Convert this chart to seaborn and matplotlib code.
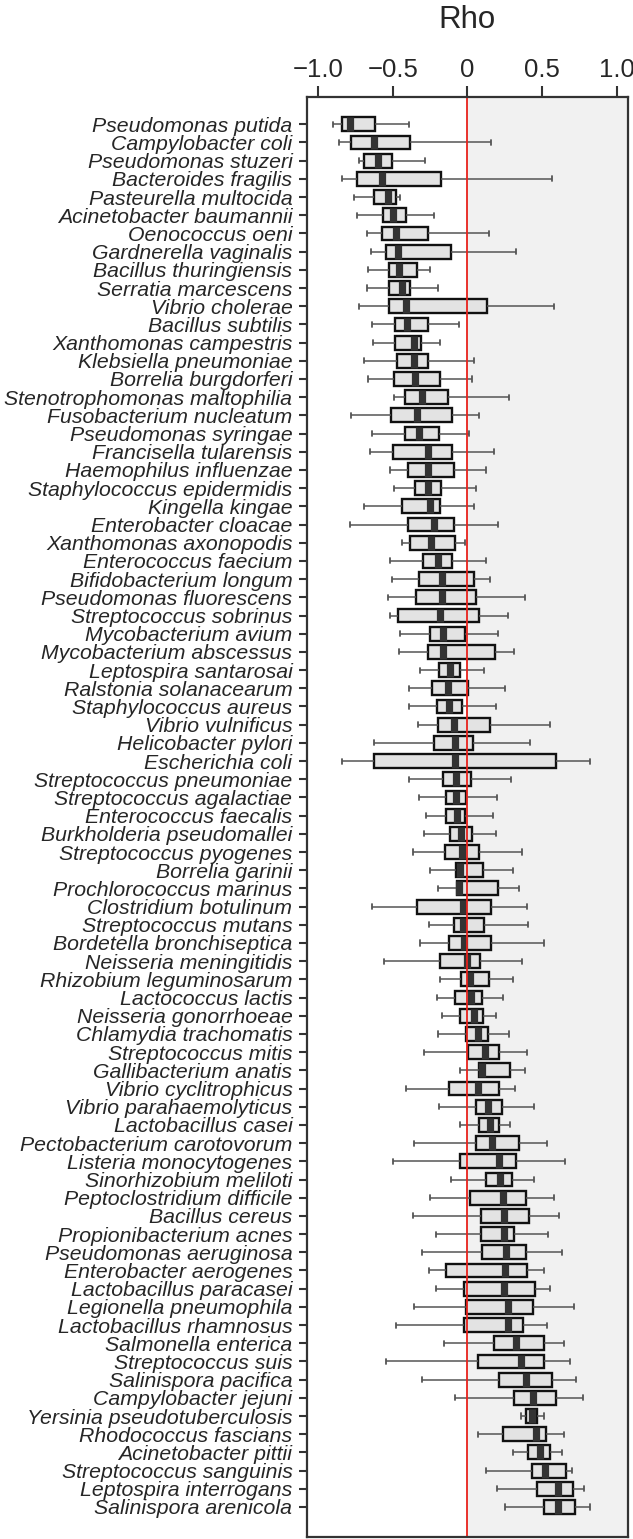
import numpy as np
import pandas as pd
import matplotlib
matplotlib.use("Agg")
import matplotlib.pyplot as plt
import seaborn as sns

species = [
    "Pseudomonas putida", "Campylobacter coli", "Pseudomonas stuzeri", "Bacteroides fragilis",
    "Pasteurella multocida", "Acinetobacter baumannii", "Oenococcus oeni", "Gardnerella vaginalis",
    "Bacillus thuringiensis", "Serratia marcescens", "Vibrio cholerae", "Bacillus subtilis",
    "Xanthomonas campestris", "Klebsiella pneumoniae", "Borrelia burgdorferi",
    "Stenotrophomonas maltophilia", "Fusobacterium nucleatum", "Pseudomonas syringae",
    "Francisella tularensis", "Haemophilus influenzae", "Staphylococcus epidermidis",
    "Kingella kingae", "Enterobacter cloacae", "Xanthomonas axonopodis", "Enterococcus faecium",
    "Bifidobacterium longum", "Pseudomonas fluorescens", "Streptococcus sobrinus",
    "Mycobacterium avium", "Mycobacterium abscessus", "Leptospira santarosai",
    "Ralstonia solanacearum", "Staphylococcus aureus", "Vibrio vulnificus", "Helicobacter pylori",
    "Escherichia coli", "Streptococcus pneumoniae", "Streptococcus agalactiae",
    "Enterococcus faecalis", "Burkholderia pseudomallei", "Streptococcus pyogenes",
    "Borrelia garinii", "Prochlorococcus marinus", "Clostridium botulinum",
    "Streptococcus mutans", "Bordetella bronchiseptica", "Neisseria meningitidis",
    "Rhizobium leguminosarum", "Lactococcus lactis", "Neisseria gonorrhoeae",
    "Chlamydia trachomatis", "Streptococcus mitis", "Gallibacterium anatis",
    "Vibrio cyclitrophicus", "Vibrio parahaemolyticus", "Lactobacillus casei",
    "Pectobacterium carotovorum", "Listeria monocytogenes", "Sinorhizobium meliloti",
    "Peptoclostridium difficile", "Bacillus cereus", "Propionibacterium acnes",
    "Pseudomonas aeruginosa", "Enterobacter aerogenes", "Lactobacillus paracasei",
    "Legionella pneumophila", "Lactobacillus rhamnosus", "Salmonella enterica",
    "Streptococcus suis", "Salinispora pacifica", "Campylobacter jejuni",
    "Yersinia pseudotuberculosis", "Rhodococcus fascians", "Acinetobacter pittii",
    "Streptococcus sanguinis", "Leptospira interrogans", "Salinispora arenicola",
]

rho_min = [-0.900, -0.859, -0.728, -0.837, -0.761, -0.739, -0.672, -0.645, -0.667, -0.672,
           -0.725, -0.636, -0.632, -0.690, -0.663, -0.489, -0.779, -0.636, -0.654, -0.516,
           -0.493, -0.690, -0.783, -0.435, -0.520, -0.507, -0.533, -0.516, -0.449, -0.458,
           -0.319, -0.391, -0.391, -0.333, -0.623, -0.837, -0.391, -0.324, -0.279, -0.288,
           -0.364, -0.252, -0.199, -0.641, -0.257, -0.319, -0.560, -0.185, -0.203, -0.172,
           -0.199, -0.288, -0.051, -0.408, -0.190, -0.051, -0.355, -0.498, -0.109, -0.248,
           -0.364, -0.208, -0.301, -0.257, -0.208, -0.355, -0.475, -0.154, -0.547, -0.306,
           -0.083, 0.359, 0.074, 0.306, 0.127, 0.199, 0.252]
rho_q1 = [-0.837, -0.779, -0.692, -0.737, -0.627, -0.565, -0.574, -0.542, -0.525, -0.525,
          -0.525, -0.487, -0.482, -0.473, -0.491, -0.415, -0.511, -0.420, -0.498, -0.400,
          -0.350, -0.440, -0.400, -0.382, -0.297, -0.324, -0.346, -0.462, -0.248, -0.261,
          -0.190, -0.234, -0.203, -0.199, -0.225, -0.627, -0.161, -0.145, -0.145, -0.118,
          -0.150, -0.078, -0.069, -0.337, -0.092, -0.123, -0.185, -0.042, -0.083, -0.047,
          -0.007, 0.007, 0.078, -0.123, 0.056, 0.078, 0.056, -0.047, 0.123, 0.020,
          0.092, 0.092, 0.096, -0.145, -0.020, -0.011, -0.020, 0.176, 0.074, 0.212,
          0.310, 0.391, 0.239, 0.408, 0.431, 0.467, 0.511]
rho_med = [-0.786, -0.623, -0.596, -0.569, -0.533, -0.498, -0.480, -0.462, -0.458, -0.435,
           -0.408, -0.404, -0.359, -0.355, -0.350, -0.306, -0.337, -0.321, -0.261, -0.266,
           -0.261, -0.248, -0.221, -0.243, -0.199, -0.172, -0.172, -0.181, -0.163, -0.163,
           -0.118, -0.127, -0.123, -0.087, -0.083, -0.083, -0.076, -0.076, -0.069, -0.042,
           -0.038, -0.047, -0.056, -0.027, -0.031, -0.022, -0.004, 0.016, 0.025, 0.042,
           0.069, 0.118, 0.100, 0.074, 0.136, 0.154, 0.165, 0.212, 0.221, 0.239,
           0.248, 0.248, 0.257, 0.252, 0.243, 0.275, 0.275, 0.324, 0.357, 0.391,
           0.440, 0.431, 0.458, 0.484, 0.520, 0.605, 0.605]
rho_q3 = [-0.618, -0.386, -0.502, -0.176, -0.480, -0.413, -0.266, -0.112, -0.337, -0.382,
          0.132, -0.261, -0.313, -0.261, -0.185, -0.127, -0.100, -0.192, -0.100, -0.087,
          -0.176, -0.185, -0.092, -0.083, -0.105, 0.047, 0.060, 0.078, -0.018, 0.185,
          -0.051, 0.007, -0.038, 0.154, 0.038, 0.596, 0.025, -0.009, -0.013, 0.033,
          0.078, 0.105, 0.203, 0.158, 0.114, 0.158, 0.087, 0.145, 0.096, 0.105,
          0.141, 0.212, 0.283, 0.212, 0.230, 0.212, 0.346, 0.328, 0.301, 0.391,
          0.413, 0.315, 0.395, 0.400, 0.453, 0.440, 0.373, 0.511, 0.511, 0.565,
          0.596, 0.467, 0.529, 0.556, 0.663, 0.708, 0.721]
rho_max = [-0.391, 0.158, -0.283, 0.567, -0.451, -0.221, 0.145, 0.324, -0.248, -0.194,
           0.583, -0.058, -0.183, 0.042, 0.029, 0.279, 0.078, 0.011, 0.176, 0.123,
           0.056, 0.042, 0.208, -0.016, 0.123, 0.150, 0.386, 0.270, 0.203, 0.310,
           0.114, 0.252, 0.190, 0.551, 0.417, 0.819, 0.292, 0.199, 0.172, 0.190,
           0.364, 0.306, 0.346, 0.400, 0.408, 0.511, 0.368, 0.306, 0.239, 0.194,
           0.279, 0.400, 0.386, 0.319, 0.449, 0.283, 0.533, 0.654, 0.449, 0.583,
           0.614, 0.542, 0.632, 0.516, 0.551, 0.717, 0.533, 0.645, 0.690, 0.725,
           0.775, 0.516, 0.645, 0.632, 0.703, 0.783, 0.819]

xticks = [-1.0, -0.5, 0.0, 0.5, 1.0]
xticklabels = ["\u22121.0", "\u22120.5", "0", "0.5", "1.0"]

# five-number summaries -> five points per species (quartiles reproduce exactly)
rows = []
for s, a, b, c, d, e in zip(species, rho_min, rho_q1, rho_med, rho_q3, rho_max):
    for v in (a, b, c, d, e):
        rows.append((s, v))
df = pd.DataFrame(rows, columns=["species", "rho"])

sns.set_style("ticks")
plt.rcParams["font.family"] = ["Liberation Sans", "DejaVu Sans"]

fig = plt.figure(figsize=(6.33, 15.39), dpi=100)
ax = fig.add_axes([307 / 633, 2 / 1539, (628 - 307) / 633, (1537 - 95 - 2) / 1539])
ax.set_facecolor("white")
ax.axvspan(0, 2, color="#f1f1f1", zorder=0, lw=0)

sns.boxplot(
    data=df, x="rho", y="species", order=species, orient="h",
    whis=(0, 100), width=0.76, color="#e3e3e3", saturation=1,
    linecolor="#111111", linewidth=1.7, fliersize=0,
    medianprops=dict(color="#333333", linewidth=5.2, solid_capstyle="butt"),
    whiskerprops=dict(color="#555555", linewidth=1.1),
    capprops=dict(color="#555555", linewidth=1.3),
    capwidths=0.28, ax=ax,
)

ax.axvline(0, color="#e8221c", lw=1.3, zorder=10)

ax.set_xlim(-1.074, 1.076)
ax.set_ylim(77.65, -1.5)
ax.xaxis.tick_top()
ax.set_xticks(xticks)
ax.set_xticklabels(xticklabels, fontsize=18.5)
ax.set_yticks(range(len(species)))
ax.set_yticklabels(species, fontsize=15.3, fontstyle="italic")
ax.tick_params(axis="x", length=8, width=1.5, color="#333333", pad=3)
ax.tick_params(axis="y", length=5.5, width=1.5, color="#333333", pad=5)
ax.set_xlabel("")
ax.set_ylabel("")
for sp in ax.spines.values():
    sp.set_visible(True)
    sp.set_color("#333333")
    sp.set_linewidth(1.6)
    sp.set_zorder(20)

fig.text(467 / 633, 1 - 28.5 / 1539, "Rho", ha="center", va="baseline", fontsize=22.5)

fig.savefig("out.png", dpi=100)
